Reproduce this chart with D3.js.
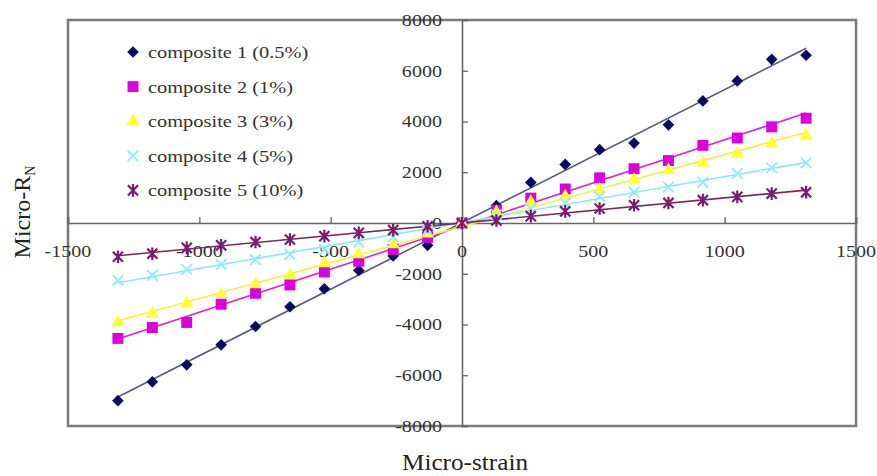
<!DOCTYPE html>
<html>
<head>
<meta charset="utf-8">
<script src="https://cdn.jsdelivr.net/npm/d3@7"></script>
<style>
  html, body { margin: 0; padding: 0; background: #fff; }
  svg { display: block; }
  text { font-family: "Liberation Serif", "Times New Roman", serif; fill: #333; }
</style>
</head>
<body>
<svg id="chart" width="877" height="476"></svg>
<script>
// ---- data ----
const strain = [-1310,-1179,-1048,-917,-786,-655,-524,-393,-262,-131,0,131,262,393,524,655,786,917,1048,1179,1310];
const composite1 = [-7000,-6260,-5590,-4800,-4080,-3300,-2590,-1870,-1300,-880,0,690,1600,2310,2890,3150,3870,4810,5600,6450,6610];
const composite2 = [-4550,-4120,-3920,-3200,-2770,-2440,-1930,-1510,-1040,-560,0,500,980,1340,1780,2140,2460,3060,3350,3790,4130];
const composite3 = [-3920,-3570,-3180,-2810,-2420,-2060,-1590,-1240,-850,-420,0,430,830,1050,1320,1710,2080,2370,2730,3130,3440];
const composite4 = [-2260,-2060,-1830,-1630,-1440,-1240,-1040,-750,-540,-300,0,330,560,790,1050,1210,1420,1600,1950,2170,2370];
const composite5 = [-1330,-1210,-980,-880,-750,-650,-520,-390,-280,-130,0,100,270,460,570,700,790,900,1030,1160,1210];
const seriesNames = ["composite 1 (0.5%)","composite 2 (1%)","composite 3 (3%)","composite 4 (5%)","composite 5 (10%)"];
const xTicks = [-1500,-1000,-500,0,500,1000,1500];
const yTicks = [-8000,-6000,-4000,-2000,0,2000,4000,6000,8000];

// ---- styles ----
const markerFill = ["#0a0a66","#dd00dd","#ffff33",null,null];
const markerStroke = [null,null,null,"#88eeff","#7a1a70"];
const lineColor = ["#5a5a80","#dd22dd","#f5f040","#88e8f0","#7a2a5a"];

const svg = d3.select("#chart");
const plot = {left: 68, right: 856, top: 20, bottom: 426};

const x = d3.scaleLinear().domain([-1500,1500]).range([plot.left, plot.right]);
const y = d3.scaleLinear().domain([-8000,8000]).range([plot.bottom, plot.top]);

function stretch(sel, f) {
  sel.each(function() {
    const len = this.getComputedTextLength();
    d3.select(this).attr("textLength", len * f).attr("lengthAdjust", "spacingAndGlyphs");
  });
}

// frame
svg.append("rect")
  .attr("x", plot.left).attr("y", plot.top)
  .attr("width", plot.right - plot.left).attr("height", plot.bottom - plot.top)
  .attr("fill", "#fff").attr("stroke", "#7a7a7a").attr("stroke-width", 2.5);

// axes through origin
const xAxis = d3.axisTop(x).tickValues(xTicks).tickSize(6).tickFormat("");
const gx = svg.append("g").attr("transform", `translate(0,${y(0)})`).call(xAxis);
const yAxis = d3.axisRight(y).tickValues(yTicks).tickSize(6).tickFormat("");
const gy = svg.append("g").attr("transform", `translate(${x(0)},0)`).call(yAxis);
[gx, gy].forEach(g => {
  g.select(".domain").attr("stroke", "#666").attr("stroke-width", 1.6);
  g.selectAll(".tick line").attr("stroke", "#666").attr("stroke-width", 1.3);
});

// tick labels
svg.append("g").selectAll("text").data(xTicks).join("text")
  .attr("x", d => x(d)).attr("y", y(0) + 34)
  .attr("text-anchor", "middle").style("font-size", "17px")
  .text(d => d)
  .call(stretch, 1.18);
svg.append("g").selectAll("text").data(yTicks).join("text")
  .attr("x", x(0) - 20).attr("y", d => y(d)).attr("dy", "0.35em")
  .attr("text-anchor", "end").style("font-size", "17px")
  .text(d => d)
  .call(stretch, 1.18);

// series
const allSeries = [composite1, composite2, composite3, composite4, composite5];

// custom star symbol: X plus vertical bar
const starSym = {
  draw(ctx, size) {
    const r = Math.sqrt(size) / 2;
    const a = r * 0.8;
    ctx.moveTo(-a, -a); ctx.lineTo(a, a);
    ctx.moveTo(-a, a); ctx.lineTo(a, -a);
    ctx.moveTo(0, -r); ctx.lineTo(0, r);
  }
};
const symbols = [
  {type: d3.symbolSquare, size: 68, rotate: 45},
  {type: d3.symbolSquare, size: 120, rotate: 0},
  {type: d3.symbolTriangle, size: 75, rotate: 0},
  {type: d3.symbolX, size: 75, rotate: 0},
  {type: starSym, size: 160, rotate: 0}
];

// regression lines
allSeries.forEach((vals, i) => {
  const n = strain.length;
  const mx = d3.mean(strain), my = d3.mean(vals);
  let sxy = 0, sxx = 0;
  for (let k = 0; k < n; k++) { sxy += (strain[k]-mx)*(vals[k]-my); sxx += (strain[k]-mx)**2; }
  const b = sxy / sxx, a = my - b * mx;
  const ext = d3.extent(strain);
  svg.append("path")
    .datum(ext.map(s => [s, a + b * s]))
    .attr("d", d3.line().x(d => x(d[0])).y(d => y(d[1])))
    .attr("fill", "none").attr("stroke", lineColor[i]).attr("stroke-width", 1.6);
});

function drawMarker(g, i, px, py) {
  const s = symbols[i];
  const p = g.append("path")
    .attr("d", d3.symbol().type(s.type).size(s.size)())
    .attr("transform", `translate(${px},${py}) rotate(${s.rotate})`);
  if (markerFill[i]) p.attr("fill", markerFill[i]).attr("stroke", "none");
  else p.attr("fill", "none").attr("stroke", markerStroke[i]).attr("stroke-width", i === 4 ? 2.2 : 1.8);
}

const gm = svg.append("g");
allSeries.forEach((vals, i) => {
  vals.forEach((v, k) => drawMarker(gm, i, x(strain[k]), y(v)));
});

// legend
const lg = svg.append("g");
seriesNames.forEach((name, i) => {
  const ly = 52 + i * 34.6;
  drawMarker(lg, i, 133, ly);
  lg.append("text").attr("x", 148).attr("y", ly).attr("dy", "0.35em")
    .style("font-size", "17px").text(name).call(stretch, 1.2);
});

// axis titles
svg.append("text").attr("x", 465).attr("y", 470)
  .attr("text-anchor", "middle").style("font-size", "24px").style("fill", "#222")
  .text("Micro-strain").call(stretch, 1.05);
const yt = svg.append("text")
  .attr("transform", "translate(30,212) rotate(-90)")
  .attr("text-anchor", "middle").style("font-size", "24px").style("fill", "#222");
yt.append("tspan").text("Micro-R");
yt.append("tspan").text("N").attr("dy", "5").style("font-size", "14px");
</script>
</body>
</html>
